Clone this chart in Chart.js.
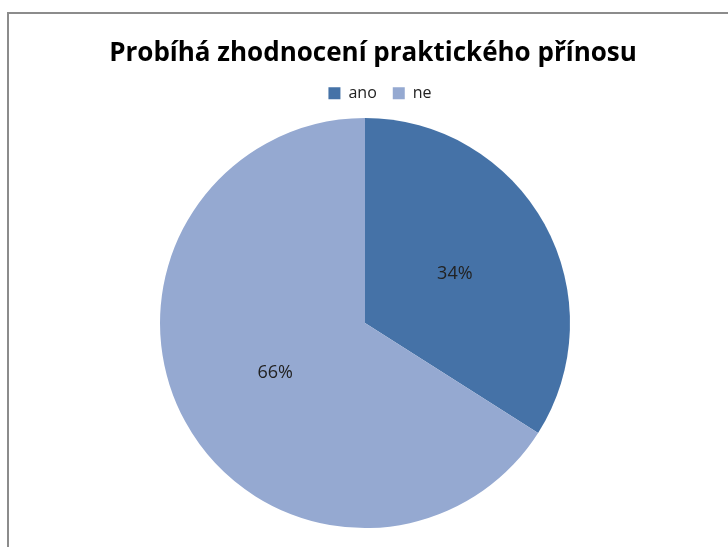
<!DOCTYPE html>
<html>
<head>
<meta charset="utf-8">
<script src="https://cdn.jsdelivr.net/npm/chart.js@4/dist/chart.umd.min.js"></script>
<style>
  html, body { margin: 0; padding: 0; background: #fff; }
  #wrap { position: relative; width: 728px; height: 547px; }
  #frame { position: absolute; left: 7px; top: 12px; right: -4px; bottom: -4px; border: 2px solid #8c8c8c; }
  canvas { position: absolute; left: 0; top: 0; }
</style>
</head>
<body>
<div id="wrap">
  <div id="frame"></div>
  <canvas id="pie" width="728" height="547"></canvas>
</div>
<script>
var labels = ['ano', 'ne'];
var values = [34, 66];
var colors = ['#4572A7', '#95A9D1'];

//percent labels inside slices
var sliceLabels = {
    id: 'sliceLabels',
    afterLayout: function (chart) {
        // title and legend sit a little right of the pie in the original
        chart.titleBlock.left += 16;
        chart.legend.left += 15;
        chart.legend.right += 15;
    },
    afterDatasetsDraw: function (chart) {
        var ctx = chart.ctx;
        var meta = chart.getDatasetMeta(0);
        var total = values.reduce(function (a, b) { return a + b; }, 0);
        ctx.save();
        ctx.font = '18px "Open Sans"';
        ctx.fillStyle = '#222';
        ctx.textAlign = 'center';
        ctx.textBaseline = 'middle';
        meta.data.forEach(function (arc, i) {
            var p = arc.getProps(['x', 'y', 'startAngle', 'endAngle', 'outerRadius']);
            var mid = (p.startAngle + p.endAngle) / 2;
            var r = p.outerRadius * 0.5;
            ctx.fillText(Math.round(values[i] / total * 100) + '%', p.x + Math.cos(mid) * r, p.y + Math.sin(mid) * r);
        });
        ctx.restore();
    }
};

var myChart = new Chart(
    document.getElementById('pie'),
    config = {
        type: 'pie',
        data: {
            labels: labels,
            datasets: [{
                data: values,
                backgroundColor: colors,
                borderWidth: 0,
                radius: 205
            }]
        },
        options: {
            responsive: false,
            animation: false,
            layout: { padding: { top: 0, bottom: 12, left: 2, right: 0 } },
            plugins: {
                title: {
                    display: true,
                    text: 'Probíhá zhodnocení praktického přínosu',
                    color: '#000',
                    font: { family: 'Open Sans', size: 26, weight: 'bold' },
                    padding: { top: 38, bottom: 0 }
                },
                legend: {
                    position: 'top',
                    labels: {
                        boxWidth: 12,
                        boxHeight: 12,
                        color: '#222',
                        font: { family: 'Open Sans', size: 16 },
                        padding: 16
                    }
                },
                tooltip: { enabled: false }
            }
        },
        plugins: [sliceLabels]
    });
</script>
</body>
</html>
